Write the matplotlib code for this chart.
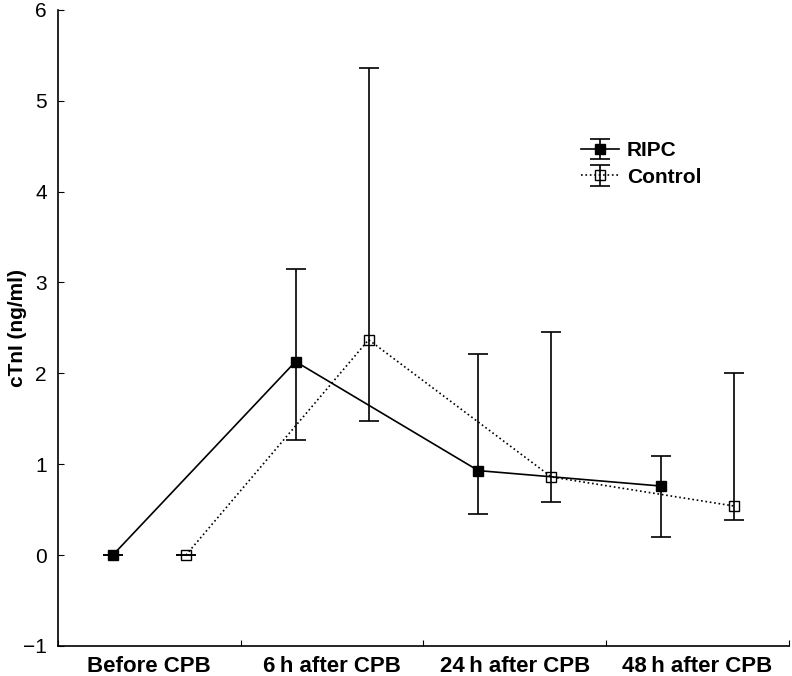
import matplotlib.pyplot as plt
import numpy as np

plt.rcParams['font.family'] = ['Liberation Sans', 'DejaVu Sans']

# data
groups = ['Before CPB', '6\u2009h after CPB', '24\u2009h after CPB', '48\u2009h after CPB']
ripc_mean = [0.0, 2.13, 0.93, 0.76]
ripc_low = [0.0, 1.27, 0.45, 0.20]
ripc_high = [0.0, 3.15, 2.21, 1.09]
ctrl_mean = [0.0, 2.37, 0.86, 0.54]
ctrl_low = [0.0, 1.48, 0.58, 0.39]
ctrl_high = [0.0, 5.36, 2.46, 2.00]

centers = np.arange(len(groups)) + 0.5
x_ripc = centers - 0.2
x_ctrl = centers + 0.2

ripc_err = [np.subtract(ripc_mean, ripc_low), np.subtract(ripc_high, ripc_mean)]
ctrl_err = [np.subtract(ctrl_mean, ctrl_low), np.subtract(ctrl_high, ctrl_mean)]

fig = plt.figure(figsize=(7.92, 6.76), dpi=100)
ax = fig.add_axes([0.0732, 0.0444, 0.923, 0.941])

ax.errorbar(x_ripc, ripc_mean, yerr=ripc_err, color='black', linestyle='-',
            linewidth=1.2, marker='s', markersize=7, markerfacecolor='black',
            markeredgecolor='black', ecolor='black', elinewidth=1.2,
            capsize=7, capthick=1.2, label='RIPC')
ax.errorbar(x_ctrl, ctrl_mean, yerr=ctrl_err, color='black', linestyle=':',
            linewidth=1.2, marker='s', markersize=7, markerfacecolor='none',
            markeredgecolor='black', ecolor='black', elinewidth=1.2,
            capsize=7, capthick=1.2, label='Control')

ax.set_xlim(0, 4)
ax.set_ylim(-1, 6)
ax.set_yticks(range(-1, 7))
ax.set_xticks([0, 1, 2, 3, 4])
ax.set_xticklabels([])
ax.set_xticks(centers, minor=True)
ax.set_xticklabels(groups, minor=True, fontsize=16, fontweight='bold')
ax.tick_params(axis='x', which='minor', length=0, pad=7)
ax.tick_params(axis='both', which='major', direction='in', length=4, labelsize=15)
ax.tick_params(axis='y', pad=8)

for s in ['top', 'right']:
    ax.spines[s].set_visible(False)
ax.spines['left'].set_linewidth(1.2)
ax.spines['bottom'].set_linewidth(1.2)

ax.set_ylabel('cTnI (ng/ml)', fontsize=15, fontweight='bold')
ax.yaxis.set_label_coords(-0.043, 0.5)

ax.legend(loc='upper left', bbox_to_anchor=(0.69, 0.823), frameon=False,
          prop={'size': 15, 'weight': 'bold'}, handlelength=1.8,
          handletextpad=0.4, labelspacing=0.35)

plt.savefig('out.png', dpi=100)
